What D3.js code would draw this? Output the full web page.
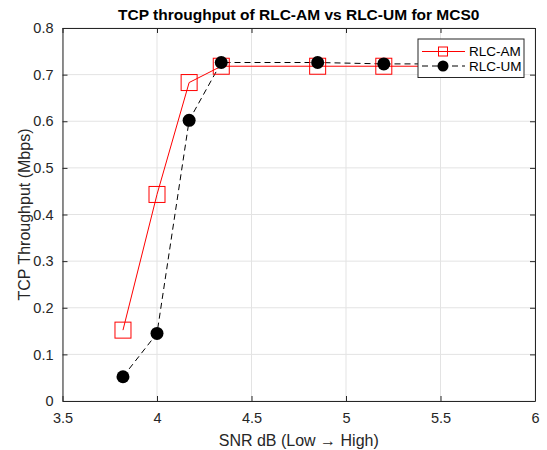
<!DOCTYPE html>
<html>
<head>
<meta charset="utf-8">
<script src="https://cdn.jsdelivr.net/npm/d3@7"></script>
<style>
  body { margin: 0; background: #fff; }
  text { font-family: "Liberation Sans", Arial, sans-serif; }
</style>
</head>
<body>
<svg width="547" height="450"></svg>
<script>
// data
var snr = [3.82, 4.0, 4.17, 4.34, 4.85, 5.2, 5.5];
var rlcAm = [0.152, 0.443, 0.683, 0.718, 0.718, 0.718, 0.718];
var rlcUm = [0.052, 0.145, 0.602, 0.726, 0.726, 0.723, 0.723];
var xTicks = [3.5, 4, 4.5, 5, 5.5, 6];
var yTicks = [0, 0.1, 0.2, 0.3, 0.4, 0.5, 0.6, 0.7, 0.8];
var seriesNames = ["RLC-AM", "RLC-UM"];

var svg = d3.select("svg"),
    margin = {top: 28, right: 12, bottom: 49, left: 62.5},
    width = +svg.attr("width") - margin.left - margin.right,
    height = +svg.attr("height") - margin.top - margin.bottom,
    g = svg.append("g").attr("transform", "translate(" + margin.left + "," + margin.top + ")");

var x = d3.scaleLinear().domain([3.5, 6]).range([0, width]);
var y = d3.scaleLinear().domain([0, 0.8]).range([height, 0]);

var axisColor = "#262626";

// grid
g.append("g").selectAll("line").data(xTicks).enter().append("line")
    .attr("x1", function(d) { return x(d); }).attr("x2", function(d) { return x(d); })
    .attr("y1", 0).attr("y2", height)
    .attr("stroke", "#e3e3e3").attr("stroke-width", 1);
g.append("g").selectAll("line").data(yTicks).enter().append("line")
    .attr("y1", function(d) { return y(d); }).attr("y2", function(d) { return y(d); })
    .attr("x1", 0).attr("x2", width)
    .attr("stroke", "#e3e3e3").attr("stroke-width", 1);

// axes
var fmt = function(d) { return d3.format("")(d); };
g.append("g")
    .attr("transform", "translate(0," + height + ")")
    .call(d3.axisBottom(x).tickValues(xTicks).tickFormat(fmt).tickSizeInner(-5).tickSizeOuter(0).tickPadding(12));
g.append("g")
    .call(d3.axisLeft(y).tickValues(yTicks).tickFormat(fmt).tickSizeInner(-5).tickSizeOuter(0).tickPadding(9));
g.append("g")
    .call(d3.axisTop(x).tickValues(xTicks).tickFormat("").tickSizeInner(-5).tickSizeOuter(0));
g.append("g")
    .attr("transform", "translate(" + width + ",0)")
    .call(d3.axisRight(y).tickValues(yTicks).tickFormat("").tickSizeInner(-5).tickSizeOuter(0));

g.selectAll(".domain").attr("stroke", axisColor);
g.selectAll(".tick line").attr("stroke", axisColor);
g.selectAll(".tick text").attr("fill", axisColor).style("font-size", "14.5px")
    .style("font-family", "Liberation Sans, Arial, sans-serif");

// lines
var line = d3.line()
    .x(function(d, i) { return x(snr[i]); })
    .y(function(d) { return y(d); });

g.append("path")
    .datum(rlcAm)
    .attr("fill", "none")
    .attr("stroke", "#ff0000")
    .attr("stroke-width", 1)
    .attr("d", line);

g.append("path")
    .datum(rlcUm)
    .attr("fill", "none")
    .attr("stroke", "#000")
    .attr("stroke-width", 1)
    .attr("stroke-dasharray", "6,4")
    .attr("d", line);

g.append("g").selectAll("rect").data(rlcAm).enter().append("rect")
    .attr("x", function(d, i) { return x(snr[i]) - 8; })
    .attr("y", function(d) { return y(d) - 8; })
    .attr("width", 16).attr("height", 16)
    .attr("fill", "none").attr("stroke", "#ff0000").attr("stroke-width", 1);

g.append("g").selectAll("circle").data(rlcUm).enter().append("circle")
    .attr("cx", function(d, i) { return x(snr[i]); })
    .attr("cy", function(d) { return y(d); })
    .attr("r", 6.5)
    .attr("fill", "#000");

// legend
var legend = g.append("g").attr("transform", "translate(" + (418 - margin.left) + "," + (39 - margin.top) + ")");
legend.append("rect")
    .attr("width", 106).attr("height", 38.5)
    .attr("fill", "#fff").attr("stroke", axisColor).attr("stroke-width", 1);
seriesNames.forEach(function(name, i) {
  var ly = 12.5 + i * 14.5;
  var row = legend.append("g").attr("transform", "translate(0," + ly + ")");
  row.append("line")
      .attr("x1", 4).attr("x2", 47)
      .attr("stroke", i === 0 ? "#ff0000" : "#000")
      .attr("stroke-dasharray", i === 0 ? null : "6,4");
  if (i === 0) {
    row.append("rect").attr("x", 20.5).attr("y", -4.5).attr("width", 9).attr("height", 9)
        .attr("fill", "none").attr("stroke", "#ff0000");
  } else {
    row.append("circle").attr("cx", 25).attr("cy", 0).attr("r", 5.5).attr("fill", "#000");
  }
  row.append("text")
      .attr("x", 51).attr("dy", "0.35em")
      .attr("fill", "#000")
      .style("font-size", "13.5px")
      .text(name);
});

// title and labels
svg.append("text")
    .attr("x", margin.left + width / 2).attr("y", 20)
    .attr("text-anchor", "middle")
    .attr("fill", "#000")
    .style("font-size", "15.5px").style("font-weight", "bold")
    .text("TCP throughput of RLC-AM vs RLC-UM for MCS0");

svg.append("text")
    .attr("x", margin.left + width / 2).attr("y", 446)
    .attr("text-anchor", "middle")
    .attr("fill", axisColor)
    .style("font-size", "16px")
    .text("SNR dB (Low \u2192 High)");

svg.append("text")
    .attr("transform", "translate(30," + (margin.top + height / 2) + ") rotate(-90)")
    .attr("text-anchor", "middle")
    .attr("fill", axisColor)
    .style("font-size", "16px")
    .text("TCP Throughput (Mbps)");
</script>
</body>
</html>
